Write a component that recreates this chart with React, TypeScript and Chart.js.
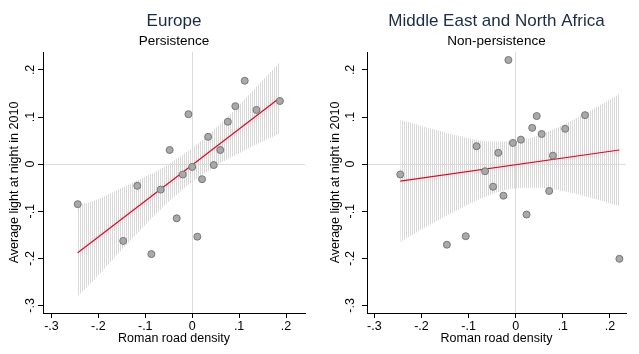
import React, { useEffect, useRef } from "react";
import { Chart, registerables } from "chart.js";

Chart.register(...registerables);

// ---- Data ----
const xTicks = [-0.3, -0.2, -0.1, 0, 0.1, 0.2];
const yTicks = [-0.3, -0.2, -0.1, 0, 0.1, 0.2];

const europeX = [-0.244, -0.147, -0.117, -0.087, -0.067, -0.048, -0.033, -0.02, -0.008, 0.0, 0.011, 0.021, 0.034, 0.046, 0.06, 0.076, 0.092, 0.112, 0.137, 0.187];
const europeY = [-0.085, -0.163, -0.046, -0.191, -0.054, 0.03, -0.115, -0.022, 0.106, -0.006, -0.154, -0.032, 0.058, -0.002, 0.03, 0.09, 0.123, 0.177, 0.115, 0.134];
const europeFitX = [-0.244, 0.187];
const europeFitY = [-0.188, 0.141];
const europeCiX = [-0.244, -0.2, -0.15, -0.1, -0.05, 0, 0.05, 0.1, 0.15, 0.187];
const europeCiUpper = [-0.088, -0.074, -0.05, -0.027, 0.0, 0.034, 0.076, 0.125, 0.178, 0.217];
const europeCiLower = [-0.28, -0.236, -0.182, -0.129, -0.08, -0.038, -0.004, 0.023, 0.048, 0.065];

const menaX = [-0.245, -0.146, -0.106, -0.083, -0.065, -0.048, -0.037, -0.026, -0.0155, -0.006, 0.011, 0.023, 0.035, 0.0446, 0.055, 0.071, 0.079, 0.105, 0.147, 0.22];
const menaY = [-0.022, -0.171, -0.153, 0.038, -0.015, -0.048, 0.024, -0.067, 0.221, 0.045, 0.052, -0.107, 0.077, 0.102, 0.064, -0.057, 0.018, 0.075, 0.104, -0.201];
const menaFitX = [-0.245, 0.22];
const menaFitY = [-0.036, 0.03];
const menaCiX = [-0.245, -0.2, -0.15, -0.1, -0.05, 0, 0.05, 0.1, 0.15, 0.22];
const menaCiUpper = [0.094, 0.081, 0.067, 0.055, 0.048, 0.049, 0.062, 0.083, 0.109, 0.149];
const menaCiLower = [-0.166, -0.139, -0.111, -0.085, -0.064, -0.051, -0.05, -0.057, -0.069, -0.089];

const FONT = "'Liberation Sans', Arial, sans-serif";
Chart.defaults.font.family = FONT;

function fmt(v: number): string {
  if (Math.abs(v) < 1e-9) return "0";
  const s = v.toFixed(1);
  return s.replace(/^(-?)0\./, "$1.");
}

function zip(xs: number[], ys: number[]) {
  return xs.map((x, i) => ({ x, y: ys[i] }));
}

type PanelProps = {
  width: number;
  title: string;
  subtitle: string;
  px: number[];
  py: number[];
  fitX: number[];
  fitY: number[];
  ciX: number[];
  ciU: number[];
  ciL: number[];
  xMin: number;
  xMax: number;
  yMin: number;
  yMax: number;
  axisW: number;
  padRight: number;
  yTickPad: number;
  yTitlePad: number;
};

function Panel(p: PanelProps) {
  const ref = useRef<HTMLCanvasElement | null>(null);
  useEffect(() => {
    const canvas = ref.current;
    if (!canvas) return;
    const ctx = canvas.getContext("2d")!;
    const pc = document.createElement("canvas");
    pc.width = 2;
    pc.height = 2;
    const pctx = pc.getContext("2d")!;
    pctx.fillStyle = "#d8d8d8";
    pctx.fillRect(0, 0, 1, 2);
    const pattern = ctx.createPattern(pc, "repeat")!;

    const gridColor = (c: any) =>
      c.tick && Math.abs(c.tick.value) < 1e-9 ? "#dcdcdc" : "rgba(0,0,0,0)";

    const chart = new Chart(ctx, {
      type: "scatter",
      data: {
        datasets: [
          {
            type: "scatter",
            data: zip(p.px, p.py),
            pointRadius: 3.5,
            pointBackgroundColor: "#a9a9a9",
            pointBorderColor: "#777777",
            pointBorderWidth: 1,
            showLine: false,
            order: 0,
          } as any,
          {
            type: "line",
            data: zip(p.fitX, p.fitY),
            borderColor: "#c8102e",
            borderWidth: 1.2,
            pointRadius: 0,
            fill: false,
            order: 1,
          } as any,
          {
            type: "line",
            data: zip(p.ciX, p.ciU),
            borderColor: "rgba(0,0,0,0)",
            borderWidth: 0,
            pointRadius: 0,
            backgroundColor: pattern,
            fill: "+1",
            cubicInterpolationMode: "monotone",
            order: 2,
          } as any,
          {
            type: "line",
            data: zip(p.ciX, p.ciL),
            borderColor: "rgba(0,0,0,0)",
            borderWidth: 0,
            pointRadius: 0,
            fill: false,
            cubicInterpolationMode: "monotone",
            order: 3,
          } as any,
        ],
      },
      options: {
        animation: false,
        responsive: false,
        maintainAspectRatio: false,
        devicePixelRatio: 1,
        events: [],
        layout: { padding: { left: 0, right: p.padRight, top: 0, bottom: 0 } },
        plugins: {
          legend: { display: false },
          tooltip: { enabled: false },
          title: {
            display: true,
            fullSize: false,
            text: p.title,
            color: "#1a2a4a",
            font: { family: FONT, size: 17, weight: "normal" },
            padding: { top: 11, bottom: 0 },
          },
          subtitle: {
            display: true,
            fullSize: false,
            text: p.subtitle,
            color: "#000000",
            font: { family: FONT, size: 13.5, weight: "normal" },
            padding: { top: 1.5, bottom: 2.9 },
          },
        },
        scales: {
          x: {
            type: "linear",
            position: "bottom",
            min: p.xMin,
            max: p.xMax,
            afterBuildTicks: (s: any) => {
              s.ticks = xTicks.map((v) => ({ value: v }));
            },
            afterFit: (s: any) => {
              s.height = 41;
            },
            ticks: {
              autoSkip: false,
              minRotation: 0,
              maxRotation: 0,
              padding: 1,
              color: "#000",
              font: { family: FONT, size: 12.5 },
              callback: (v: any) => fmt(Number(v)),
            },
            grid: { color: gridColor, tickColor: "#000", tickLength: 5, lineWidth: 1 },
            border: { color: "#000", width: 1 },
            title: {
              display: true,
              text: "Roman road density",
              color: "#000",
              font: { family: FONT, size: 12.5 },
              padding: { top: 0, bottom: 7.5 },
            },
          },
          y: {
            type: "linear",
            min: p.yMin,
            max: p.yMax,
            afterBuildTicks: (s: any) => {
              s.ticks = yTicks.map((v) => ({ value: v }));
            },
            afterFit: (s: any) => {
              s.width = p.axisW;
            },
            ticks: {
              autoSkip: false,
              minRotation: 90,
              maxRotation: 90,
              crossAlign: "center",
              padding: p.yTickPad,
              color: "#000",
              font: { family: FONT, size: 12.5 },
              callback: (v: any) => fmt(Number(v)),
            },
            grid: { color: gridColor, tickColor: "#000", tickLength: 5, lineWidth: 1 },
            border: { color: "#000", width: 1 },
            title: {
              display: true,
              text: "Average light at night in 2010",
              color: "#000",
              font: { family: FONT, size: 12.5 },
              padding: { top: p.yTitlePad, bottom: 0 },
            },
          },
        },
      } as any,
    });
    return () => chart.destroy();
  }, []);
  return (
    <canvas
      ref={ref}
      width={p.width}
      height={354}
      style={{ display: "block", width: p.width, height: 354 }}
    />
  );
}

export default function App() {
  useEffect(() => {
    document.body.style.margin = "0";
    document.body.style.background = "#ffffff";
  }, []);
  return (
    <div style={{ position: "absolute", left: 0, top: 0, width: 639, height: 354, background: "#fff", display: "flex" }}>
      <Panel
        width={320}
        title="Europe"
        subtitle="Persistence"
        px={europeX}
        py={europeY}
        fitX={europeFitX}
        fitY={europeFitY}
        ciX={europeCiX}
        ciU={europeCiUpper}
        ciL={europeCiLower}
        xMin={-0.318}
        xMax={0.2405}
        yMin={-0.316}
        yMax={0.238}
        axisW={43}
        padRight={15}
        yTickPad={0.5}
        yTitlePad={7.5}
      />
      <Panel
        width={319}
        title="Middle East and North Africa"
        subtitle="Non-persistence"
        px={menaX}
        py={menaY}
        fitX={menaFitX}
        fitY={menaFitY}
        ciX={menaCiX}
        ciU={menaCiUpper}
        ciL={menaCiLower}
        xMin={-0.3155}
        xMax={0.234}
        yMin={-0.316}
        yMax={0.238}
        axisW={47}
        padRight={13}
        yTickPad={3.8}
        yTitlePad={8.5}
      />
    </div>
  );
}
